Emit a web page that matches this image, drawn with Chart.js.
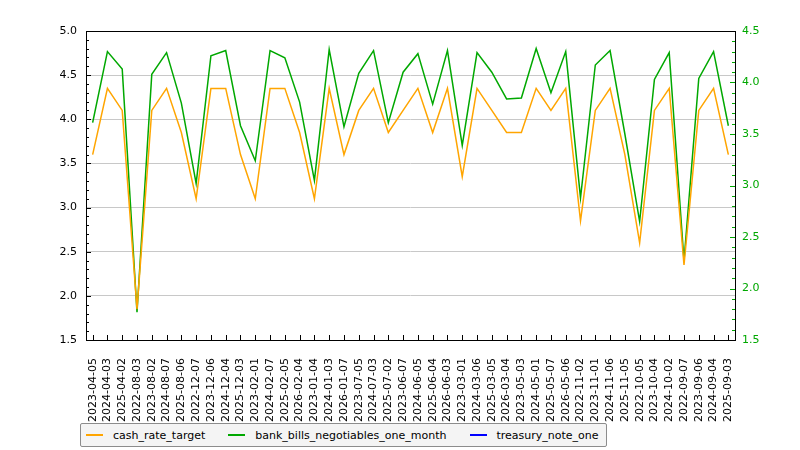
<!DOCTYPE html>
<html lang="en">
<head>
  <meta charset="UTF-8">
  <title>Cash rate vs bank bills</title>
  <script src="https://cdn.jsdelivr.net/npm/chart.js"></script>
  <style>
    body {
      margin: 0;
      background: #fff;
    }
    #wrap {
      position: relative;
      width: 800px;
      height: 450px;
    }
    #legend {
      position: absolute;
      left: 80px;
      top: 423px;
      height: 24px;
      box-sizing: border-box;
      display: flex;
      align-items: center;
      padding: 0 7px 0 5px;
      background: #f4f4f4;
      border: 1px solid #8c8c8c;
      border-radius: 2px;
      font: 11px "DejaVu Sans", sans-serif;
      color: #000;
      white-space: nowrap;
    }
    #legend .item {
      display: flex;
      align-items: center;
      margin-left: 23px;
    }
    #legend .item:first-child {
      margin-left: 0;
    }
    #legend .swatch {
      display: inline-block;
      width: 17px;
      height: 2px;
      margin-right: 10px;
    }
  </style>
</head>
<body>

<div id="wrap">
  <canvas id="rates" width="800" height="450"></canvas>
  <div id="legend"></div>
</div>

<script>
  const dateLabels = [
    "2023-04-05", "2024-04-03", "2025-04-02", "2022-08-03", "2023-08-02", "2024-08-07",
    "2025-08-06", "2022-12-07", "2023-12-06", "2024-12-04", "2025-12-03", "2023-02-01",
    "2024-02-07", "2025-02-05", "2026-02-04", "2023-01-04", "2024-01-03", "2026-01-07",
    "2023-07-05", "2024-07-03", "2025-07-02", "2023-06-07", "2024-06-05", "2025-06-04",
    "2026-06-03", "2023-03-01", "2024-03-06", "2025-03-05", "2026-03-04", "2023-05-03",
    "2024-05-01", "2025-05-07", "2026-05-06", "2022-11-02", "2023-11-01", "2024-11-06",
    "2025-11-05", "2022-10-05", "2023-10-04", "2024-10-02", "2022-09-07", "2023-09-06",
    "2024-09-04", "2025-09-03"
  ];

  // left axis
  const cashRateTarget = [
    3.60, 4.35, 4.10, 1.85, 4.10, 4.35, 3.85, 3.10, 4.35, 4.35, 3.60, 3.10,
    4.35, 4.35, 3.85, 3.10, 4.35, 3.60, 4.10, 4.35, 3.85, 4.10, 4.35, 3.85,
    4.35, 3.35, 4.35, 4.10, 3.85, 3.85, 4.35, 4.10, 4.35, 2.85, 4.10, 4.35,
    3.60, 2.60, 4.10, 4.35, 2.35, 4.10, 4.35, 3.60
  ];

  // right axis
  const bankBillsOneMonth = [
    3.61, 4.30, 4.13, 1.77, 4.08, 4.29, 3.80, 3.02, 4.26, 4.31, 3.58, 3.24,
    4.31, 4.24, 3.81, 3.05, 4.32, 3.57, 4.09, 4.31, 3.61, 4.10, 4.28, 3.79,
    4.31, 3.39, 4.29, 4.10, 3.84, 3.85, 4.33, 3.90, 4.30, 2.88, 4.17, 4.31,
    3.50, 2.65, 4.03, 4.29, 2.27, 4.04, 4.30, 3.58
  ];

  // no values drawn in the picture
  const treasuryNoteOne = [];

  const leftTicks = { min: 1.5, max: 5.0, step: 0.5 };
  const rightTicks = { min: 1.5, max: 4.5, step: 0.5 };

  const GREEN = "#00a800";
  const ORANGE = "#ffa500";
  const BLUE = "#0000ff";

  Chart.defaults.font.family = "'DejaVu Sans', sans-serif";
  Chart.defaults.font.size = 11;
  Chart.defaults.color = "#000";

  const toPoints = arr => arr.map((y, i) => ({ x: i, y: y }));

  // inward tick marks + box frame, like the original axes
  const frameTicks = {
    id: "frameTicks",
    afterDatasetsDraw(chart) {
      const { ctx, chartArea: a, scales } = chart;
      const px = v => Math.round(v) + 0.5;
      ctx.save();
      ctx.lineWidth = 1;

      ctx.strokeStyle = "#000";
      ctx.beginPath();
      dateLabels.forEach((d, i) => {
        const x = px(scales.x.getPixelForValue(i));
        ctx.moveTo(x, a.bottom);
        ctx.lineTo(x, a.bottom - 5);
      });
      const ys = scales.y;
      for (let k = Math.round(ys.min * 10); k <= Math.round(ys.max * 10); k++) {
        const y = px(ys.getPixelForValue(k / 10));
        ctx.moveTo(a.left, y);
        ctx.lineTo(a.left + (k % 5 === 0 ? 5 : 3), y);
      }
      ctx.stroke();

      ctx.strokeStyle = GREEN;
      ctx.beginPath();
      const yr = scales.y1;
      for (let k = Math.round(yr.min * 10); k <= Math.round(yr.max * 10); k++) {
        const y = px(yr.getPixelForValue(k / 10));
        ctx.moveTo(a.right, y);
        ctx.lineTo(a.right - (k % 5 === 0 ? 5 : 3), y);
      }
      ctx.stroke();

      ctx.strokeStyle = "#000";
      ctx.strokeRect(px(a.left), px(a.top), Math.round(a.right - a.left), Math.round(a.bottom - a.top));
      ctx.restore();
    }
  };

  const chart = new Chart(document.getElementById("rates"), {
    type: "line",
    data: {
      datasets: [
        {
          label: "cash_rate_target",
          data: toPoints(cashRateTarget),
          borderColor: ORANGE,
          backgroundColor: ORANGE,
          borderWidth: 1.5,
          pointRadius: 0,
          tension: 0,
          yAxisID: "y"
        },
        {
          label: "bank_bills_negotiables_one_month",
          data: toPoints(bankBillsOneMonth),
          borderColor: GREEN,
          backgroundColor: GREEN,
          borderWidth: 1.5,
          pointRadius: 0,
          tension: 0,
          yAxisID: "y1"
        },
        {
          label: "treasury_note_one",
          data: toPoints(treasuryNoteOne),
          borderColor: BLUE,
          backgroundColor: BLUE,
          borderWidth: 1.5,
          pointRadius: 0,
          yAxisID: "y1"
        }
      ]
    },
    options: {
      responsive: false,
      animation: false,
      layout: { padding: { top: 31, left: 0, right: 0, bottom: 0 } },
      plugins: {
        legend: { display: false },
        tooltip: { enabled: false }
      },
      scales: {
        x: {
          type: "linear",
          min: -0.45,
          max: dateLabels.length - 1 + 0.45,
          border: { display: false },
          grid: { display: false },
          afterBuildTicks: s => { s.ticks = dateLabels.map((d, i) => ({ value: i })); },
          afterFit: s => { s.height = 110; },
          ticks: {
            autoSkip: false,
            minRotation: 90,
            maxRotation: 90,
            padding: 10,
            color: "#000",
            callback: v => dateLabels[v]
          }
        },
        y: {
          position: "left",
          min: leftTicks.min,
          max: leftTicks.max,
          border: { display: false },
          grid: { color: "#c8c8c8", lineWidth: 1, drawTicks: false },
          afterFit: s => { s.width = 86; },
          ticks: {
            stepSize: leftTicks.step,
            padding: 9,
            color: "#000",
            callback: v => v.toFixed(1)
          }
        },
        y1: {
          position: "right",
          min: rightTicks.min,
          max: rightTicks.max,
          border: { display: false },
          grid: { drawOnChartArea: false, drawTicks: false },
          afterFit: s => { s.width = 65; },
          ticks: {
            stepSize: rightTicks.step,
            padding: 7,
            color: GREEN,
            callback: v => v.toFixed(1)
          }
        }
      }
    },
    plugins: [frameTicks]
  });

  // legend box under the plot
  const legend = document.getElementById("legend");
  chart.data.datasets.forEach(ds => {
    const item = document.createElement("span");
    item.className = "item";
    const sw = document.createElement("span");
    sw.className = "swatch";
    sw.style.background = ds.borderColor;
    const txt = document.createElement("span");
    txt.textContent = ds.label;
    item.appendChild(sw);
    item.appendChild(txt);
    legend.appendChild(item);
  });
</script>

</body>
</html>
